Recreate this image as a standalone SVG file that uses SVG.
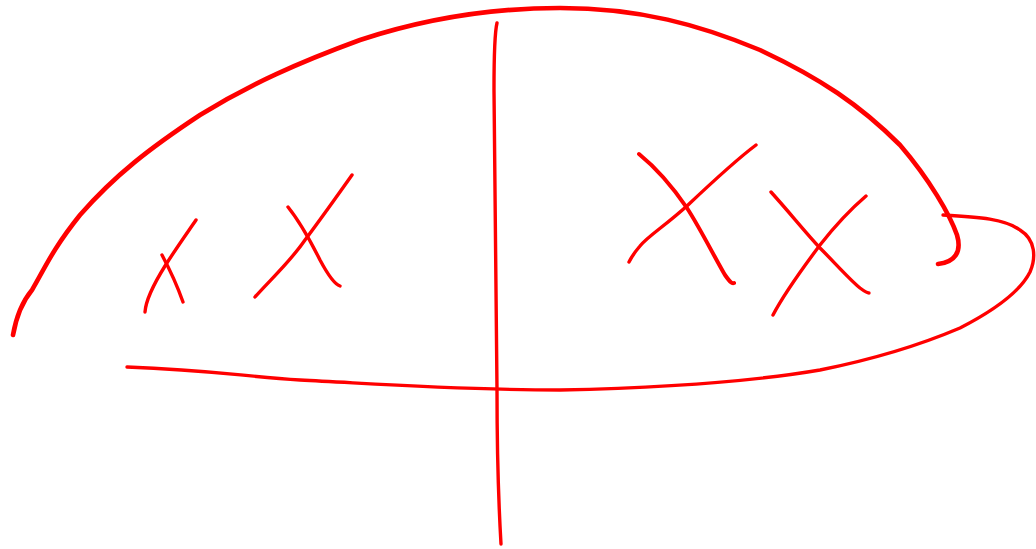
<svg xmlns="http://www.w3.org/2000/svg" width="1036" height="549" viewBox="0 0 1036 549">
<style>
.s{fill:none;stroke:#ff0000;stroke-linecap:round;stroke-linejoin:round;stroke-width:3.4}
</style>
<rect width="1036" height="549" fill="#ffffff"/>
<g id="arc"><path class="s" style="stroke-width:4.6" d="M13,335 C16,318 22,302 32,290 C45,268 52,250 80,215 C115,175 150,148 200,115 C250,84 300,62 360,40 C430,17 500,8 560,8 C640,8 700,25 760,50 C820,78 860,105 900,145 C930,180 950,215 957,235 C962,252 955,262 938,264"/></g>
<g id="bottom"><path class="s" d="M943,215 C980,217 1005,219 1020,230 C1036,240 1036,258 1030,272 C1020,292 995,310 960,328 C920,345 870,360 820,370 C750,382 650,388 560,390 C460,390 380,384 300,380 C240,376 210,370 127,367"/></g>
<g id="divider"><path class="s" d="M497,23 C494,35 494,60 494,90 C495,200 497,300 497,390 C497,470 499,510 501,544"/></g>
<g id="x1"><path class="s" d="M196,220 C185,236 175,250 165,266 C155,282 146,298 145,312"/><path class="s" d="M162,255 C170,270 177,285 183,302"/></g>
<g id="x2"><path class="s" d="M352,175 C335,199 320,220 305,240 C290,262 270,280 255,297"/><path class="s" d="M288,207 C300,222 310,240 320,260 C328,275 334,284 340,286"/></g>
<g id="x3"><path class="s" style="stroke-width:4" d="M639,154 C655,167 670,183 687,208 C700,228 715,258 725,275 C730,282 732,284 734,283"/><path class="s" d="M756,145 C740,157 725,170 688,205 C665,226 648,236 640,246 C634,253 631,258 629,262"/></g>
<g id="x4"><path class="s" d="M771,192 C790,213 805,232 820,248 C835,263 850,280 860,288 C864,291 867,293 869,293"/><path class="s" d="M866,196 C852,208 838,222 820,245 C805,265 785,292 773,315"/></g>
</svg>
